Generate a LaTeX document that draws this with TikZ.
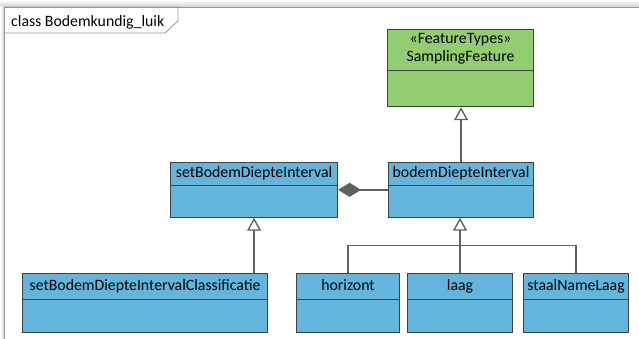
\documentclass[tikz,border=0pt]{standalone}
\usepackage{fontspec}
\setmainfont{Carlito}
\usetikzlibrary{shapes.multipart,arrows.meta,calc}

\definecolor{clsblue}{RGB}{100,181,219}
\definecolor{ftgreen}{RGB}{146,206,112}
\definecolor{clsline}{RGB}{62,66,70}
\definecolor{connline}{RGB}{96,96,96}
\definecolor{frameline}{RGB}{150,150,150}

% empty attribute compartment of a class box
\newcommand{\attrpart}[1]{\nodepart{two}\rule{0pt}{#1}}

\tikzset{
  cls/.style={rectangle split, rectangle split parts=2, draw=clsline, fill=clsblue,
    line width=1.1pt, minimum width=#1, anchor=north west, inner xsep=3pt,
    inner ysep=2pt, execute at begin node=\strut},
  lowrow/.style={inner ysep=3.5pt},
  conn/.style={draw=connline, line width=1.4pt},
  gen/.style={conn, -{Triangle[length=13pt, width=14pt, fill=white]}},
  comp/.style={conn, {Diamond[length=23pt, width=14pt, fill=connline]}-},
}

\begin{document}
\begin{tikzpicture}[x=1pt, y=-1pt, every node/.style={font=\fontsize{15.8}{18}\selectfont}]
\useasboundingbox (0,0) rectangle (639,339);
\fill[white] (0,0) rectangle (639,339);
% frame of the diagram
\shade[top color=white, bottom color=gray!35] (0,0) rectangle (639,6.5);
\shade[left color=white, right color=gray!35] (0,6.5) rectangle (4,339);
\fill[white] (4,7) rectangle (639,339);
\draw[frameline, line width=0.8pt] (4,339) -- (4,7) -- (640,7);
\draw[frameline, line width=0.8pt] (4,7) -- (178,7) -- (178,21) -- (165,33) -- (4,33);
\node[anchor=base west, inner sep=0pt] (title) at (11,27) {class Bodemkundig\_luik};

% classes
\node[cls=146pt, fill=ftgreen, align=center, inner ysep=3pt] (sf) at (387,29)
  {«FeatureTypes»\\SamplingFeature \attrpart{24pt}};
\node[cls=167pt] (sbdi) at (170,162) {setBodemDiepteInterval \attrpart{21pt}};
\node[cls=145pt] (bdi) at (388,162) {bodemDiepteInterval \attrpart{21pt}};
\node[cls=245pt, lowrow] (sbdic) at (22,273) {setBodemDiepteIntervalClassificatie \attrpart{19pt}};
\node[cls=103pt, lowrow] (hor) at (296,273) {horizont \attrpart{19pt}};
\node[cls=105pt, lowrow] (lg) at (407,273) {laag \attrpart{19pt}};
\node[cls=105pt, lowrow] (sta) at (523,273) {staalNameLaag \attrpart{19pt}};

% relations
\draw[gen] (bdi.north) -- (bdi.north |- sf.south);
\draw[comp] (sbdi.east) -- (bdi.west);
\draw[gen] (sbdic.north -| sbdi.south) -- (sbdi.south);
\coordinate (fork) at ($(lg.north)!0.5!(lg.north |- bdi.south)$);
\draw[conn] (hor.north) |- (fork) -| (sta.north);
\draw[gen] (lg.north) -- (lg.north |- bdi.south);
\end{tikzpicture}
\end{document}
